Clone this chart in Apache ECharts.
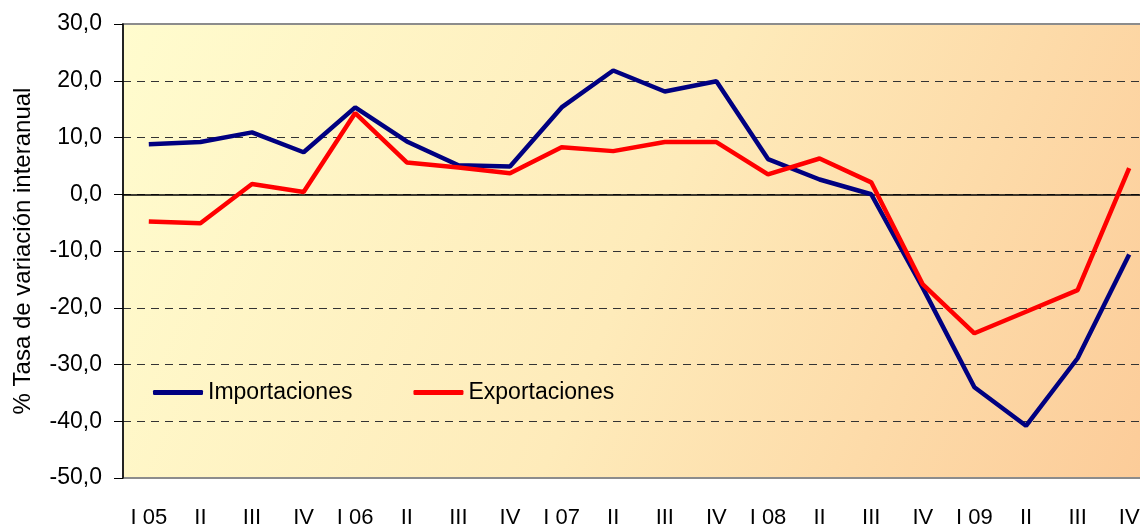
<!DOCTYPE html>
<html>
<head>
<meta charset="utf-8">
<script src="https://cdn.jsdelivr.net/npm/echarts@6/dist/echarts.min.js"></script>
<style>
  html, body { margin: 0; padding: 0; background: #fff; }
  #chart { width: 1140px; height: 526px; }
</style>
</head>
<body>
<div id="chart"></div>
<script>
// quarters 2005-2009
const quarters = ['I 05', 'II', 'III', 'IV', 'I 06', 'II', 'III', 'IV', 'I 07', 'II',
  'III', 'IV', 'I 08', 'II', 'III', 'IV', 'I 09', 'II', 'III', 'IV']

// % tasa de variacion interanual
const importaciones = [8.8, 9.2, 10.9, 7.4, 15.3, 9.3, 5.1, 4.9, 15.3, 21.8,
  18.1, 19.9, 6.2, 2.6, 0.0, -16.5, -34.0, -40.8, -28.9, -10.6]
const exportaciones = [-4.8, -5.1, 1.8, 0.4, 14.3, 5.6, 4.7, 3.7, 8.3, 7.6,
  9.2, 9.2, 3.5, 6.3, 2.1, -15.9, -24.5, -20.7, -16.9, 4.6]

const yMin = -50, yMax = 30, yStep = 10

const chart = echarts.init(document.getElementById('chart'))

// "30,0" style labels
const fmt = v => v.toFixed(1).replace('.', ',')

const option = {
  animation: false,
  textStyle: { fontFamily: 'Liberation Sans, Arial, sans-serif' },
  grid: {
    left: 123, top: 24, right: -15, bottom: 48,
    outerBoundsMode: 'none',
    show: true,
    borderColor: '#8c8c8c',
    borderWidth: 2,
    backgroundColor: new echarts.graphic.LinearGradient(0, 0, 1, 1, [
      { offset: 0, color: '#FFFCCE' },
      { offset: 0.5, color: '#FEEBBA' },
      { offset: 1, color: '#FCCB98' }
    ])
  },
  legend: {
    left: 153, top: 381,
    padding: 0,
    icon: 'roundRect',
    itemWidth: 50, itemHeight: 5, itemGap: 61,
    textStyle: { fontSize: 23, color: '#000' },
    data: ['Importaciones', 'Exportaciones']
  },
  xAxis: [
    {
      // zero line with ticks
      type: 'category',
      data: quarters,
      position: 'bottom',
      axisLine: { onZero: true, lineStyle: { color: '#000', width: 1.5 } },
      axisTick: { length: 9, lineStyle: { color: '#555', width: 1.5 } },
      axisLabel: { show: false },
      splitLine: { show: false }
    },
    {
      // labels at the bottom
      type: 'category',
      data: quarters,
      position: 'bottom',
      axisLine: { show: false, onZero: false },
      axisTick: { show: false },
      axisLabel: { fontSize: 22, color: '#000', margin: 29, interval: 0 },
      splitLine: { show: false }
    }
  ],
  yAxis: {
    type: 'value',
    min: yMin, max: yMax, interval: yStep,
    name: '% Tasa de variación interanual',
    nameLocation: 'middle',
    nameGap: 88,
    nameRotate: 90,
    nameTextStyle: { fontSize: 24, color: '#000' },
    axisLine: { show: true, lineStyle: { color: '#000', width: 1.5 } },
    axisTick: { show: true, length: 9, lineStyle: { color: '#000', width: 1 } },
    axisLabel: { fontSize: 23, color: '#000', margin: 21, formatter: fmt },
    splitLine: {
      show: true, showMinLine: false, showMaxLine: false,
      lineStyle: { color: '#333', width: 1, type: [8, 6] }
    }
  },
  series: [
    {
      name: 'Importaciones',
      type: 'line',
      data: importaciones,
      symbol: 'none',
      lineStyle: { color: '#000080', width: 4.5 },
      itemStyle: { color: '#000080' },
      z: 3
    },
    {
      name: 'Exportaciones',
      type: 'line',
      data: exportaciones,
      symbol: 'none',
      lineStyle: { color: '#FF0000', width: 4.5 },
      itemStyle: { color: '#FF0000' },
      z: 4
    }
  ]
}

chart.setOption(option)
</script>
</body>
</html>
